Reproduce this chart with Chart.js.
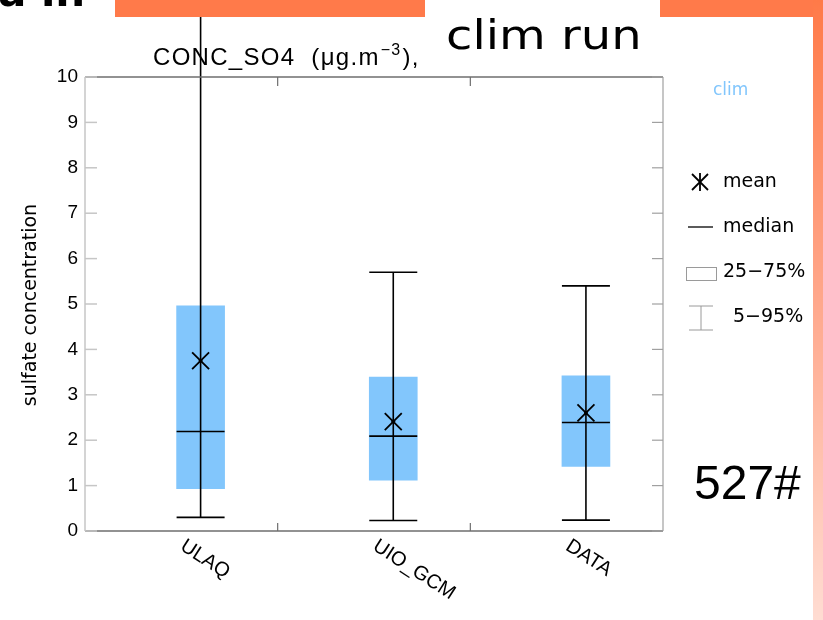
<!DOCTYPE html>
<html>
<head>
<meta charset="utf-8">
<script src="https://cdn.jsdelivr.net/npm/chart.js@4.4.1/dist/chart.umd.min.js"></script>
<style>
  body { margin: 0; background: #fff; }
  #slide { position: relative; width: 823px; height: 620px; overflow: hidden; background: #fff; }
  #c { position: absolute; left: 0; top: 0; }
  .orange { position: absolute; background: #ff7a4a; }
  .txt { position: absolute; color: #000; white-space: nowrap; }
</style>
</head>
<body>
<div id="slide">
  <canvas id="c" width="823" height="620"></canvas>
  <div class="txt" style="left:-2px;top:-33px;font:bold 42px 'DejaVu Sans';">a in</div>
  <div class="orange" style="left:115px;top:0;width:310px;height:17px;"></div>
  <div class="orange" style="left:660px;top:0;width:163px;height:17px;"></div>
  <div class="orange" style="left:813px;top:0;width:10px;height:620px;background:linear-gradient(#ff7a48,#ffa487 45%,#ffdcd2);"></div>
  <div class="txt" style="left:446px;top:12px;font:40px 'DejaVu Sans';transform:scaleX(1.2);transform-origin:left top;">clim run</div>
  <div class="txt" style="left:694px;top:455px;font:48px 'Liberation Sans';">527#</div>
</div>
<script>
const categories = ['ULAQ', 'UIO_GCM', 'DATA']
const p5 = [0.30, 0.23, 0.24]
const p25 = [0.93, 1.12, 1.42]
const median = [2.19, 2.09, 2.39]
const mean = [3.75, 2.41, 2.60]
const p75 = [4.96, 3.39, 3.42]
const p95 = [12.5, 5.70, 5.40]
const yTicks = [0, 1, 2, 3, 4, 5, 6, 7, 8, 9, 10]
const xTickMarks = [1.4, 2.4]

const boxBlue = '#82c6fc'

function line(ctx, x1, y1, x2, y2) {
  ctx.beginPath()
  ctx.moveTo(x1, y1)
  ctx.lineTo(x2, y2)
  ctx.stroke()
}

const boxPlot = {
  id: 'boxPlot',
  afterDatasetsDraw(chart) {
    const ctx = chart.ctx
    const x = chart.scales.x
    const y = chart.scales.y
    const half = 24
    ctx.save()
    ctx.strokeStyle = '#000'
    ctx.lineWidth = 1.6
    categories.forEach((c, i) => {
      const px = x.getPixelForValue(i + 1)
      line(ctx, px, y.getPixelForValue(p5[i]), px, y.getPixelForValue(p95[i]))
      line(ctx, px - half, y.getPixelForValue(p5[i]), px + half, y.getPixelForValue(p5[i]))
      if (p95[i] <= y.max) line(ctx, px - half, y.getPixelForValue(p95[i]), px + half, y.getPixelForValue(p95[i]))
      line(ctx, px - half, y.getPixelForValue(median[i]), px + half, y.getPixelForValue(median[i]))
      ctx.beginPath()
      ctx.arc(px, y.getPixelForValue(mean[i]), 2, 0, Math.PI * 2)
      ctx.fillStyle = '#000'
      ctx.fill()
    })
    ctx.restore()
  },
  afterDraw(chart) {
    const ctx = chart.ctx
    const x = chart.scales.x
    const y = chart.scales.y
    const a = chart.chartArea
    ctx.save()
    ctx.lineWidth = 1.5
    // frame
    ctx.strokeStyle = '#6e6e6e'
    line(ctx, a.left, a.top, a.right, a.top)
    line(ctx, a.left, a.bottom, a.right, a.bottom)
    ctx.strokeStyle = '#c6c6c6'
    line(ctx, a.left, a.top, a.left, a.bottom)
    yTicks.forEach(v => line(ctx, a.left, y.getPixelForValue(v), a.left + 12, y.getPixelForValue(v)))
    ctx.strokeStyle = '#a0a0a0'
    ctx.lineWidth = 1.2
    line(ctx, a.right, a.top, a.right, a.bottom)
    yTicks.forEach(v => line(ctx, a.right - 11, y.getPixelForValue(v), a.right, y.getPixelForValue(v)))
    ctx.strokeStyle = '#6e6e6e'
    xTickMarks.forEach(v => {
      const px = x.getPixelForValue(v)
      line(ctx, px, a.bottom, px, a.bottom - 8)
      line(ctx, px, a.top, px, a.top + 9)
    })

    // category labels, slanted
    ctx.fillStyle = '#000'
    ctx.font = "20px 'Liberation Sans'"
    ctx.textBaseline = 'top'
    ctx.textAlign = 'left'
    categories.forEach((c, i) => {
      ctx.save()
      ctx.translate(x.getPixelForValue(i + 1) - 13, a.bottom + 5)
      ctx.rotate(33 * Math.PI / 180)
      ctx.fillText(c, 0, 0)
      ctx.restore()
    })

    // title
    ctx.textBaseline = 'alphabetic'
    ctx.font = "24px 'Liberation Sans'"
    ctx.letterSpacing = '1.3px'
    let tx = 153
    const ty = 65
    ctx.fillText('CONC_SO4  (\u03bcg.m', tx, ty)
    tx += ctx.measureText('CONC_SO4  (\u03bcg.m').width
    ctx.font = "16px 'Liberation Sans'"
    ctx.fillText('\u22123', tx + 1, ty - 10)
    tx += ctx.measureText('\u22123').width + 2
    ctx.font = "24px 'Liberation Sans'"
    ctx.fillText('),', tx, ty)
    ctx.letterSpacing = '0px'

    // y axis title
    ctx.save()
    ctx.translate(31, 305)
    ctx.rotate(-Math.PI / 2)
    ctx.textAlign = 'center'
    ctx.textBaseline = 'middle'
    ctx.font = "19px 'DejaVu Sans'"
    ctx.fillText('sulfate concentration', 0, 0)
    ctx.restore()

    // legend
    ctx.textAlign = 'left'
    ctx.textBaseline = 'middle'
    ctx.font = "17px 'DejaVu Sans'"
    ctx.fillStyle = boxBlue
    ctx.fillText('clim', 713, 91)
    ctx.fillStyle = '#000'
    ctx.font = "19px 'DejaVu Sans'"
    ctx.fillText('mean', 723, 182)
    ctx.fillText('median', 723, 227)
    ctx.fillText('25\u221275%', 723, 272)
    ctx.fillText('5\u221295%', 733, 317)
    ctx.strokeStyle = '#000'
    ctx.lineWidth = 1.8
    const sx = 700, sy = 182, r = 8
    line(ctx, sx - r, sy - r, sx + r, sy + r)
    line(ctx, sx - r, sy + r, sx + r, sy - r)
    line(ctx, sx, sy - r - 1, sx, sy + r + 1)
    ctx.strokeStyle = '#333'
    ctx.lineWidth = 1.6
    line(ctx, 688, 227, 713, 227)
    ctx.strokeStyle = '#9a9a9a'
    ctx.lineWidth = 1
    ctx.strokeRect(686.5, 267.5, 30, 13)
    line(ctx, 689, 306, 713, 306)
    line(ctx, 701, 306, 701, 330)
    line(ctx, 689, 330, 713, 330)
    ctx.restore()
  }
}

new Chart(document.getElementById('c'), {
  type: 'bar',
  data: {
    datasets: [{
      type: 'scatter',
      label: 'mean',
      data: categories.map((c, i) => ({ x: i + 1, y: mean[i] })),
      pointStyle: 'crossRot',
      pointRadius: 12,
      borderColor: '#000',
      borderWidth: 1.8,
      order: 1
    }, {
      label: '25-75%',
      data: categories.map((c, i) => ({ x: i + 1, y: [p25[i], p75[i]] })),
      backgroundColor: boxBlue,
      borderWidth: 0,
      barThickness: 48,
      order: 2
    }]
  },
  options: {
    responsive: false,
    animation: false,
    devicePixelRatio: 1,
    layout: { padding: { left: 40, top: 77, right: 160, bottom: 89 } },
    plugins: { legend: { display: false }, tooltip: { enabled: false } },
    scales: {
      x: { type: 'linear', min: 0.4, max: 3.4, offset: false, display: false },
      y: {
        min: 0,
        max: 10,
        afterFit: scale => { scale.width = 45 },
        afterBuildTicks: scale => { scale.ticks = yTicks.map(v => ({ value: v })) },
        grid: { display: false, drawTicks: false },
        border: { display: false },
        ticks: { color: '#000', padding: 7, font: { family: 'Liberation Sans', size: 19 } }
      }
    }
  },
  plugins: [boxPlot]
})
</script>
</body>
</html>
